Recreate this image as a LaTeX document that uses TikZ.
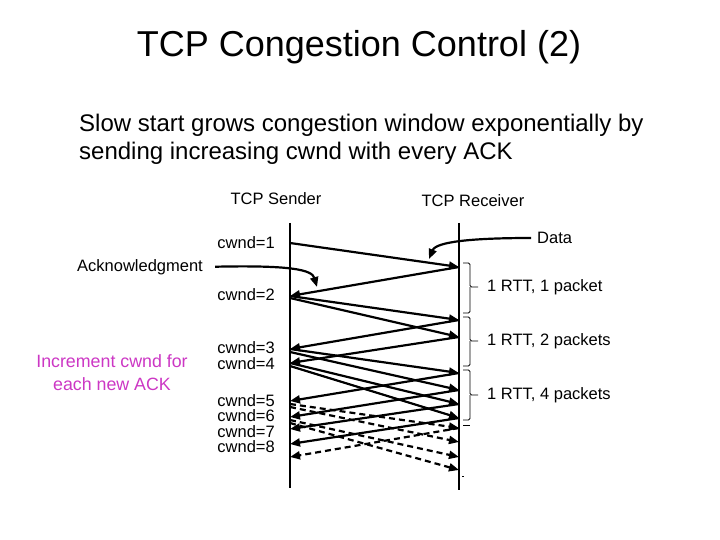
\documentclass[tikz,border=0pt]{standalone}
\usepackage{fontspec}
\setmainfont{Liberation Sans}
\usetikzlibrary{arrows.meta}
\definecolor{pinktxt}{RGB}{204,55,196}
\begin{document}
\begin{tikzpicture}[x=1pt,y=-1pt,
  lbl/.style={font=\fontsize{16.5}{18}\selectfont, inner sep=0pt},
  msg/.style={line width=2.2pt, -{Triangle[length=10pt,width=8pt]}},
  dmsg/.style={msg, dash pattern=on 6pt off 4pt},
  life/.style={line width=1.3pt},
  brk/.style={line width=0.9pt, rounded corners=1.5pt}]
\useasboundingbox (0,0) rectangle (720,540);
% titles
\node[font=\fontsize{36}{40}\selectfont, anchor=base] (title) at (359,57) {TCP Congestion Control (2)};
\node[font=\fontsize{24}{28}\selectfont, anchor=base west, inner sep=0pt] (l1) at (79,132) {Slow start grows congestion window exponentially by};
\node[font=\fontsize{24}{28}\selectfont, anchor=base west, inner sep=0pt] (l2) at (79,160) {sending increasing cwnd with every ACK};
% headers
\node[lbl, anchor=base] (snd) at (276,205) {TCP Sender};
\node[lbl, anchor=base] (rcv) at (473,207) {TCP Receiver};
% lifelines
\coordinate (sTop) at (290,223); \coordinate (sBot) at (290,488);
\coordinate (rTop) at (459,223); \coordinate (rBot) at (459,490);
\draw[life] (sTop) -- (sBot);
\draw[life] (rTop) -- (rBot);
% cwnd labels
\foreach \n/\y in {1/243,2/295,3/348,4/364,5/401,6/416,7/432,8/447}
  \node[lbl, anchor=east] (c\n) at (275,\y) {cwnd=\n};
% side labels
\node[lbl, anchor=west] (ack) at (77,267) {Acknowledgment};
\node[lbl, anchor=west] (data) at (537,238) {Data};
\node[font=\fontsize{17.8}{23}\selectfont, text=pinktxt, align=center, inner sep=0pt] (inc) at (112,373) {Increment cwnd for\\each new ACK};
% points on sender
\coordinate (s1) at (290,243);
\coordinate (s2) at (290,296); \coordinate (s2b) at (290,298);
\coordinate (s3) at (290,349); \coordinate (s3b) at (290,352);
\coordinate (s4) at (290,363); \coordinate (s4b) at (290,366);
\coordinate (s5) at (290,401); \coordinate (s5a) at (290,404); \coordinate (s5b) at (290,407);
\coordinate (s6) at (290,417); \coordinate (s6a) at (290,420); \coordinate (s6b) at (290,423);
\coordinate (s7) at (290,429);
\coordinate (s8) at (290,444);
\coordinate (s9) at (290,457);
% points on receiver
\coordinate (r1) at (459,267);
\coordinate (r2) at (459,320); \coordinate (r3) at (459,337);
\coordinate (r4) at (459,373); \coordinate (r5) at (459,390);
\coordinate (r6) at (459,404); \coordinate (r7) at (459,418);
\coordinate (r8) at (459,428); \coordinate (r9) at (459,442);
\coordinate (r10) at (459,457); \coordinate (r11) at (459,470);
% messages
\draw[msg] (s1) -- (r1);
\draw[msg] (r1) -- (s2);
\draw[msg] (s2) -- (r2);
\draw[msg] (s2b) -- (r3);
\draw[msg] (r2) -- (s3);
\draw[msg] (r3) -- (s4);
\draw[msg] (s3) -- (r4);
\draw[msg] (s3b) -- (r5);
\draw[msg] (s4) -- (r6);
\draw[msg] (s4b) -- (r7);
\draw[msg] (r4) -- (s5);
\draw[msg] (r5) -- (s6);
\draw[msg] (r6) -- (s7);
\draw[msg] (r7) -- (s8);
\draw[dmsg] (s5a) -- (r8);
\draw[dmsg] (s5b) -- (r9);
\draw[dmsg] (s6a) -- (r10);
\draw[dmsg] (s6b) -- (r11);
\draw[dmsg] (r8) -- (s9);
% curved pointers
\coordinate (ackTip) at (317,287);
\coordinate (dataTip) at (429,259);
\draw[msg, shorten <=12pt] (ack.east) .. controls (292,265) and (312,270) .. (ackTip);
\draw[msg, shorten <=6pt] (data.west) .. controls (470,238) and (436,242) .. (dataTip);
% brackets
\draw[brk] (463,263) -- (470,263) -- (470,287) -- (478,287);
\draw[brk] (470,287) -- (470,313) -- (463,313);
\node[lbl, anchor=west] (rtt1) at (487,287) {1 RTT, 1 packet};
\draw[brk] (463,317) -- (470,317) -- (470,341) -- (478,341);
\draw[brk] (470,341) -- (470,366) -- (463,366);
\node[lbl, anchor=west] (rtt2) at (487,341) {1 RTT, 2 packets};
\draw[brk] (463,370) -- (470,370) -- (470,395) -- (478,395);
\draw[brk] (470,395) -- (470,420) -- (463,420);
\node[lbl, anchor=west] (rtt4) at (487,395) {1 RTT, 4 packets};
\draw[line width=0.9pt] (463,425) -- (470,425);
\draw[line width=0.9pt] (462,476) -- (464,476);
\end{tikzpicture}
\end{document}
